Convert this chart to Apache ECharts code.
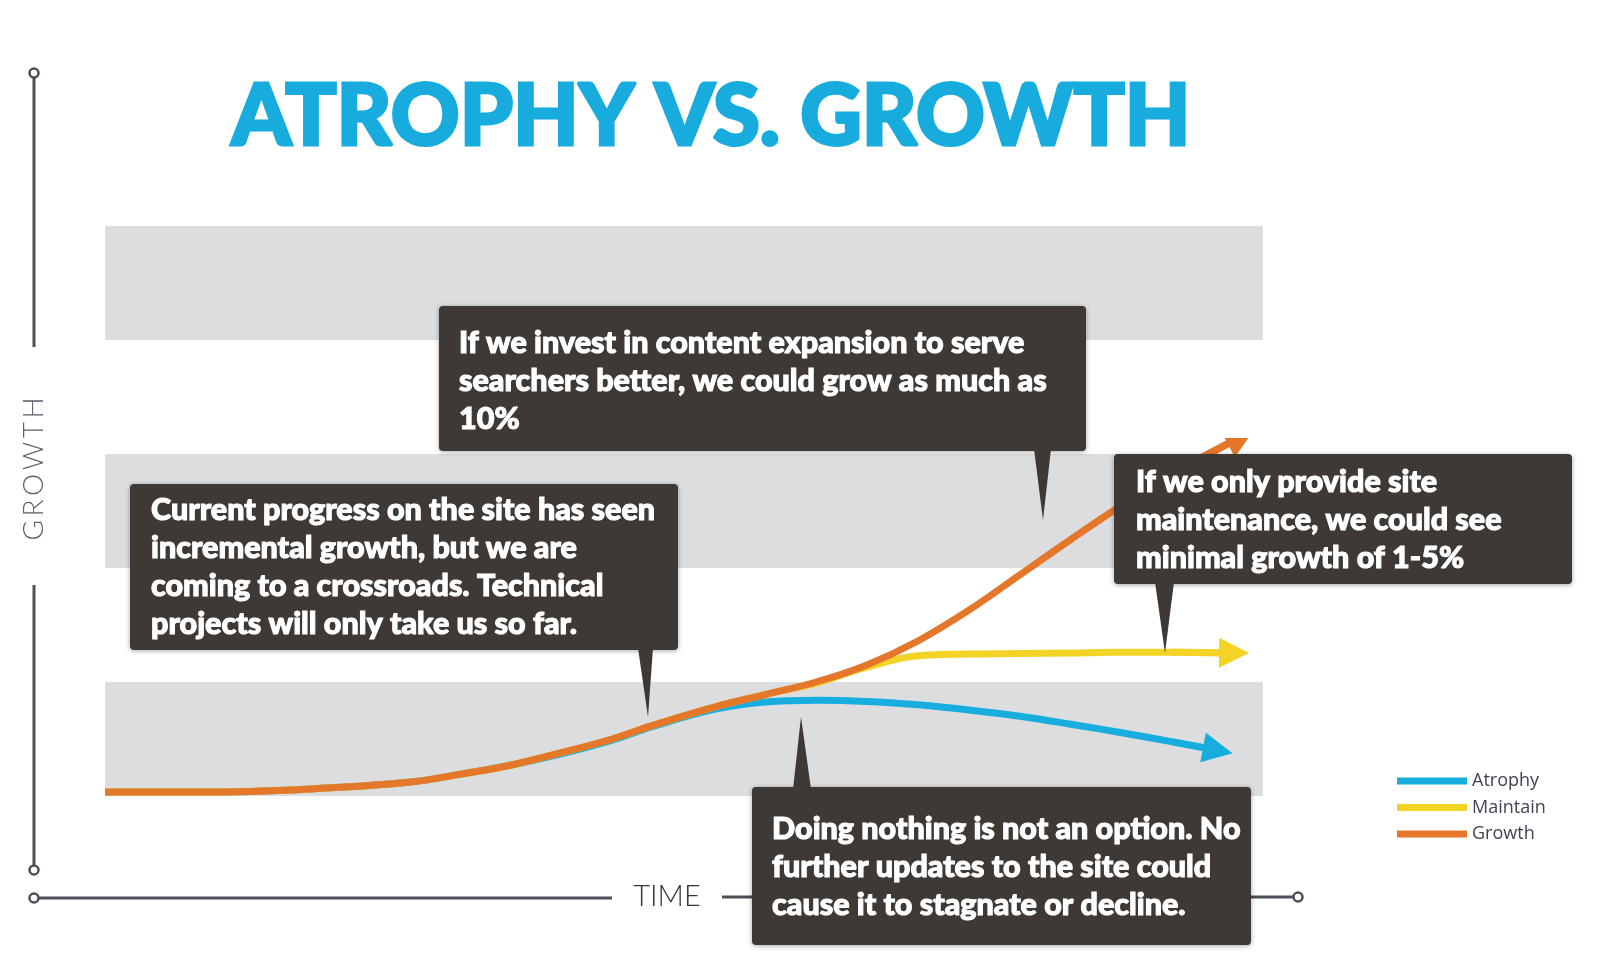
<!DOCTYPE html>
<html><head><meta charset="utf-8">
<script src="https://cdn.jsdelivr.net/npm/echarts@6/dist/echarts.min.js"></script>
<style>html,body{margin:0;padding:0;background:#fff}#c{width:1600px;height:959px}</style>
</head><body><div id="c"></div>
<script>
// ---- data ----
const seriesNames = ['Atrophy', 'Maintain', 'Growth'];
const time     = [0, 8.5, 17.4, 26.2, 30.6, 35, 39.4, 43.8, 47.3, 52.6, 57, 61.4, 65.8, 70.2, 74.6, 79, 83.4, 87.8, 92.2];
const growth   = [0.035, 0.035, 0.06, 0.12, 0.19, 0.27, 0.38, 0.50, 0.62, 0.78, 0.89, 1.00, 1.15, 1.36, 1.63, 1.94, 2.25, 2.55, 2.83];
const maintain = [0.035, 0.035, 0.06, 0.12, 0.19, 0.27, 0.38, 0.50, 0.62, 0.78, 0.89, 0.99, 1.13, 1.23, 1.245, 1.25, 1.255, 1.26, 1.26];
const atrophy  = [0.035, 0.035, 0.06, 0.12, 0.19, 0.27, 0.37, 0.49, 0.61, 0.76, 0.825, 0.84, 0.83, 0.80, 0.755, 0.70, 0.63, 0.555, 0.475];
const growthEnd   = [98.1, 3.15];
const maintainEnd = [97.5, 1.255];
const atrophyEnd  = [96.1, 0.40];
const bandTicks = [0, 1, 2, 3, 4, 5];

const titleText = 'ATROPHY VS. GROWTH';
const yName = 'GROWTH';
const xName = 'TIME';
const note1 = ['Current progress on the site has seen', 'incremental growth, but we are', 'coming to a crossroads. Technical', 'projects will only take us so far.'];
const note2 = ['If we invest in content expansion to serve', 'searchers better, we could grow as much as', '10%'];
const note3 = ['If we only provide site', 'maintenance, we could see', 'minimal growth of 1-5%'];
const note4 = ['Doing nothing is not an option. No', 'further updates to the site could', 'cause it to stagnate or decline.'];

// ---- styles ----
const colors = { Atrophy: '#17aedf', Maintain: '#f4d327', Growth: '#e5772b' };
const boxColor = '#3e3935';
const axisColor = '#4b4f57';

function pts(xs, ys, end) {
  const d = xs.map((x, i) => [x, ys[i]]);
  d.push(end);
  return d;
}
function lineSeries(name, ys, end) {
  const data = pts(time, ys, end);
  const prev = data[data.length - 2];
  return {
    name, type: 'line', data, smooth: 0.4, showSymbol: false, symbol: 'none',
    lineStyle: { color: colors[name], width: 7, cap: 'butt' },
    itemStyle: { color: colors[name] },
    emphasis: { disabled: true },
    silent: true,
    markLine: {
      silent: true, animation: false,
      symbol: ['none', 'triangle'], symbolSize: [30, 30],
      lineStyle: { color: colors[name], width: 7, type: 'solid' },
      itemStyle: { color: colors[name] },
      label: { show: false },
      emphasis: { disabled: true },
      data: [[{ coord: prev }, { coord: end }]]
    }
  };
}

function callout(box, ptr, lines, textY, textX) {
  return [
    { type: 'rect', z: 100, shape: { x: box[0], y: box[1], width: box[2], height: box[3], r: 4 },
      style: { fill: boxColor, shadowBlur: 5, shadowColor: 'rgba(0,0,0,0.35)', shadowOffsetY: 1 } },
    { type: 'polygon', z: 100, shape: { points: ptr }, style: { fill: boxColor } },
    { type: 'text', z: 101, x: textX, y: textY,
      style: { text: lines.join('\n'), fill: '#ffffff', stroke: '#ffffff', lineWidth: 1.1,
               fontFamily: 'Lato', fontWeight: 900, fontSize: 30.5,
               lineHeight: 38, align: 'left', verticalAlign: 'top' } }
  ];
}

const graphics = [].concat(
  // title
  [{ type: 'text', z: 10, x: 711, y: 118,
     style: { text: titleText, fill: '#17acdd', stroke: '#17acdd', lineWidth: 3,
              fontFamily: 'Lato', fontWeight: 900, fontSize: 85,
              align: 'center', verticalAlign: 'middle' } }],
  // y axis decoration
  [
    { type: 'line', z: 10, shape: { x1: 34, y1: 78, x2: 34, y2: 347 }, style: { stroke: axisColor, lineWidth: 3 } },
    { type: 'line', z: 10, shape: { x1: 34, y1: 585, x2: 34, y2: 865 }, style: { stroke: axisColor, lineWidth: 3 } },
    { type: 'circle', z: 10, shape: { cx: 34, cy: 73, r: 4.5 }, style: { fill: '#fff', stroke: axisColor, lineWidth: 2.5 } },
    { type: 'circle', z: 10, shape: { cx: 34, cy: 870, r: 4.5 }, style: { fill: '#fff', stroke: axisColor, lineWidth: 2.5 } },
    { type: 'text', z: 10, x: 34, y: 469, rotation: Math.PI / 2,
      style: { text: yName.split('').join('\u2009'), fill: '#59616d', fontFamily: 'Lato', fontWeight: 300, fontSize: 28,
               align: 'center', verticalAlign: 'middle' } }
  ],
  // x axis decoration
  [
    { type: 'line', z: 10, shape: { x1: 39, y1: 898, x2: 612, y2: 898 }, style: { stroke: axisColor, lineWidth: 3 } },
    { type: 'line', z: 10, shape: { x1: 722, y1: 897, x2: 1293, y2: 897 }, style: { stroke: axisColor, lineWidth: 3 } },
    { type: 'circle', z: 10, shape: { cx: 34, cy: 898, r: 4.5 }, style: { fill: '#fff', stroke: axisColor, lineWidth: 2.5 } },
    { type: 'circle', z: 10, shape: { cx: 1298, cy: 897, r: 4.5 }, style: { fill: '#fff', stroke: axisColor, lineWidth: 2.5 } },
    { type: 'text', z: 10, x: 667, y: 897,
      style: { text: xName, fill: '#2e3540', fontFamily: 'Lato', fontWeight: 300, fontSize: 29,
               align: 'center', verticalAlign: 'middle' } }
  ],
  // white mask clipping the growth arrow top
  [{ type: 'rect', z: 50, shape: { x: 1190, y: 380, width: 100, height: 58 }, style: { fill: '#ffffff' } }],
  callout([130, 484, 548, 166], [[638, 648], [653, 648], [648, 717]], note1, 491, 151),
  callout([439, 306, 647, 145], [[1034, 449], [1051, 449], [1043, 520]], note2, 324, 459),
  callout([1114, 454, 458, 130], [[1155, 582], [1174, 582], [1165, 653]], note3, 463, 1136),
  callout([752, 787, 499, 158], [[793, 789], [811, 789], [801, 717]], note4, 810, 772)
);

const option = {
  animation: false,
  backgroundColor: '#ffffff',
  grid: { left: 105, top: 226, width: 1158, height: 570, containLabel: false },
  xAxis: { type: 'value', min: 0, max: 100, show: false },
  yAxis: {
    type: 'value', min: bandTicks[0], max: bandTicks[bandTicks.length - 1], interval: 1,
    axisLine: { show: false }, axisTick: { show: false }, axisLabel: { show: false },
    splitLine: { show: false },
    splitArea: { show: true, areaStyle: { color: ['#dcdddf', 'rgba(255,255,255,0)'] } }
  },
  legend: {
    data: seriesNames, orient: 'vertical', left: 1392, top: 767,
    itemWidth: 70, itemHeight: 7, itemGap: 8.5, icon: 'rect',
    textStyle: { fontFamily: 'Open Sans', fontSize: 18, color: '#3e4451' },
    selectedMode: false
  },
  series: [
    lineSeries('Atrophy', atrophy, atrophyEnd),
    lineSeries('Maintain', maintain, maintainEnd),
    lineSeries('Growth', growth, growthEnd)
  ],
  graphic: { elements: graphics }
};

const chart = echarts.init(document.getElementById('c'));
chart.setOption(option);
</script>
</body></html>
